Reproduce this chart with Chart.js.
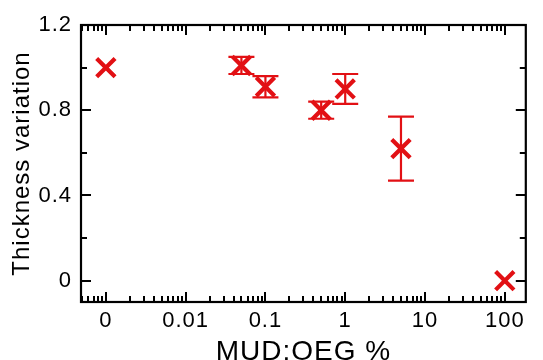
<!DOCTYPE html>
<html>
<head>
<meta charset="utf-8">
<script src="https://cdn.jsdelivr.net/npm/chart.js@4/dist/chart.umd.min.js"></script>
<style>
  html, body { margin: 0; padding: 0; background: #ffffff; }
  #c { display: block; }
</style>
</head>
<body>
<canvas id="c" width="543" height="360"></canvas>
<script>
// MUD:OEG ratio (%) of each sample; the pure-OEG sample (0 %) sits on the "0" position of the log axis
const concentration = [0, 0.05, 0.1, 0.5, 1, 5, 100];
const thickness     = [1.00, 1.01, 0.91, 0.80, 0.90, 0.62, 0.00];
const thicknessErr  = [0, 0.04, 0.05, 0.04, 0.07, 0.15, 0];

// axis ticks
const xDecades   = [0.001, 0.01, 0.1, 1, 10, 100];
const xDecadeLbl = ['0', '0.01', '0.1', '1', '10', '100'];
const yTicks     = [0, 0.2, 0.4, 0.6, 0.8, 1.0, 1.2];
const yTickLbl   = ['0', '', '0.4', '', '0.8', '', '1.2'];

const ZERO_POS = 0.001;   // where the 0 % sample is placed on the log axis
const X_MIN = 0.000488, X_MAX = 183.4;
const Y_MIN = -0.1, Y_MAX = 1.2;

const RED = 'rgb(226,16,20)';
const FONT = '"Liberation Sans", Arial, Helvetica, sans-serif';

const points = concentration.map((c, i) => ({ x: c === 0 ? ZERO_POS : c, y: thickness[i] }));

// minor + major positions for the log axis
const xTickValues = [];
for (let k = -4; k <= 2; k++) {
  for (let m = 1; m <= 9; m++) {
    const v = +(m * Math.pow(10, k)).toPrecision(6);
    if (v >= X_MIN && v <= X_MAX) xTickValues.push({ v, major: m === 1 });
  }
}

const textSpacing = {
  id: 'textSpacing',
  beforeDraw(chart) { chart.ctx.letterSpacing = '1px'; }
};

// error bars drawn through the chart's scales
const errorBars = {
  id: 'errorBars',
  beforeDatasetsDraw(chart) {
    const { ctx, scales: { x, y } } = chart;
    ctx.save();
    ctx.strokeStyle = RED;
    ctx.lineWidth = 2.2;
    const cap = 13;
    points.forEach((p, i) => {
      const e = thicknessErr[i];
      if (!e) return;
      const px = x.getPixelForValue(p.x);
      const yTop = y.getPixelForValue(p.y + e);
      const yBot = y.getPixelForValue(p.y - e);
      ctx.beginPath();
      ctx.moveTo(px, yTop); ctx.lineTo(px, yBot);
      ctx.moveTo(px - cap, yTop); ctx.lineTo(px + cap, yTop);
      ctx.moveTo(px - cap, yBot); ctx.lineTo(px + cap, yBot);
      ctx.stroke();
    });
    ctx.restore();
  }
};

// box frame with inward tick marks on all four sides
const frameTicks = {
  id: 'frameTicks',
  afterDatasetsDraw(chart) {
    const { ctx, chartArea: a, scales: { x, y } } = chart;
    ctx.save();
    ctx.strokeStyle = '#000';
    ctx.lineWidth = 2;
    ctx.beginPath();
    xTickValues.forEach(t => {
      const px = Math.round(x.getPixelForValue(t.v));
      const len = t.major ? 10 : 6;
      ctx.moveTo(px, a.bottom); ctx.lineTo(px, a.bottom - len);
      ctx.moveTo(px, a.top); ctx.lineTo(px, a.top + len);
    });
    yTicks.forEach((v, i) => {
      const py = Math.round(y.getPixelForValue(v));
      const len = yTickLbl[i] ? 10 : 6;
      ctx.moveTo(a.left, py); ctx.lineTo(a.left + len, py);
      ctx.moveTo(a.right, py); ctx.lineTo(a.right - len, py);
    });
    ctx.stroke();
    ctx.lineWidth = 2.2;
    ctx.strokeRect(a.left, a.top, a.right - a.left, a.bottom - a.top);
    ctx.restore();
  }
};

new Chart(document.getElementById('c'), {
  type: 'scatter',
  data: {
    datasets: [{
      data: points,
      pointStyle: 'crossRot',
      pointRadius: 13,
      pointHoverRadius: 13,
      borderColor: RED,
      backgroundColor: RED,
      pointBorderWidth: 4.2,
      pointHoverBorderWidth: 4.2
    }]
  },
  options: {
    responsive: false,
    animation: false,
    events: [],
    layout: { padding: { top: 25, right: 3, left: 0, bottom: 0 } },
    plugins: { legend: { display: false }, tooltip: { enabled: false } },
    scales: {
      x: {
        type: 'logarithmic',
        min: X_MIN,
        max: X_MAX,
        grid: { display: false, drawTicks: false },
        border: { display: false },
        afterBuildTicks(scale) {
          scale.ticks = xTickValues.map(t => ({ value: t.v, major: t.major }));
        },
        afterFit(scale) { scale.height = 58; },
        ticks: {
          autoSkip: false,
          maxRotation: 0,
          padding: 6,
          color: '#000',
          font: { family: FONT, size: 22 },
          callback(value) {
            const i = xDecades.findIndex(d => Math.abs(d - value) < d * 1e-6);
            return i >= 0 ? xDecadeLbl[i] : '';
          }
        },
        title: {
          display: true,
          text: 'MUD:OEG %',
          color: '#000',
          font: { family: FONT, size: 28, lineHeight: 0.55 },
          padding: 0
        }
      },
      y: {
        type: 'linear',
        min: Y_MIN,
        max: Y_MAX,
        grid: { display: false, drawTicks: false },
        border: { display: false },
        afterBuildTicks(scale) {
          scale.ticks = yTicks.map(v => ({ value: v }));
        },
        afterFit(scale) { scale.width = 81; },
        ticks: {
          autoSkip: false,
          padding: 9,
          color: '#000',
          font: { family: FONT, size: 22 },
          callback(value) {
            const i = yTicks.findIndex(v => Math.abs(v - value) < 1e-6);
            return i >= 0 ? yTickLbl[i] : '';
          }
        },
        title: {
          display: true,
          text: 'Thickness variation',
          color: '#000',
          font: { family: FONT, size: 24, lineHeight: 1.2 },
          padding: { top: 8, bottom: 0 }
        }
      }
    }
  },
  plugins: [textSpacing, errorBars, frameTicks]
});
</script>
</body>
</html>
